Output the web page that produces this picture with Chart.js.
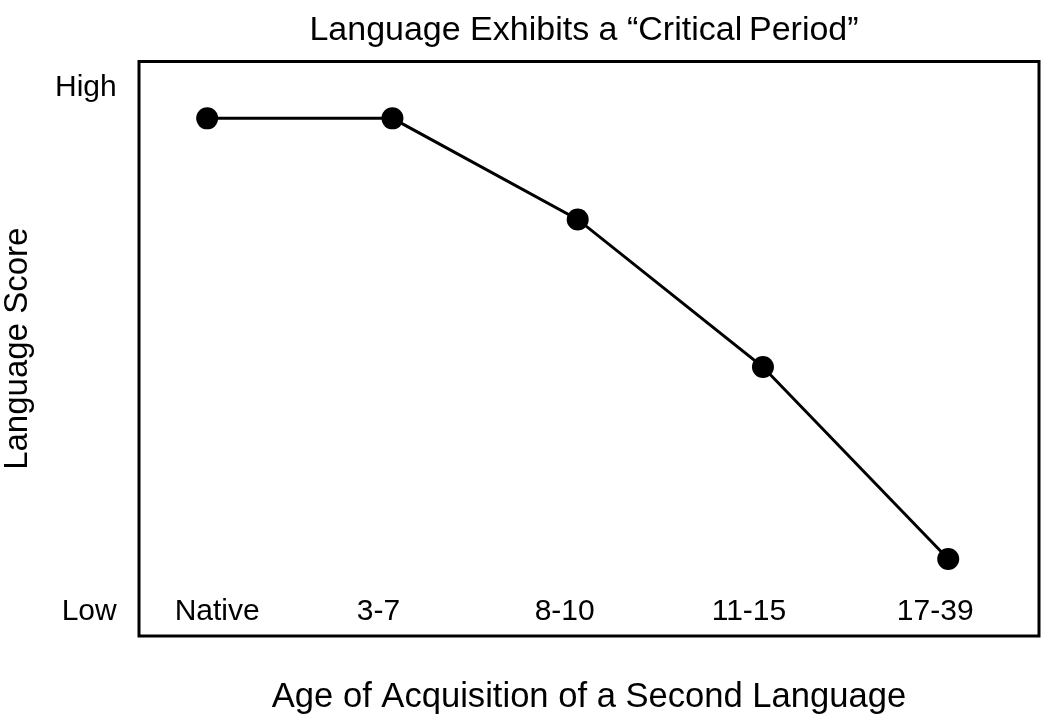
<!DOCTYPE html>
<html>
<head>
<meta charset="utf-8">
<script src="https://cdn.jsdelivr.net/npm/chart.js@4.4.1/dist/chart.umd.min.js"></script>
<style>
  html, body { margin: 0; padding: 0; background: #ffffff; overflow: hidden; }
  #wrap { width: 1050px; height: 720px; position: relative; }
</style>
</head>
<body>
<div id="wrap"><canvas id="c" width="1050" height="720"></canvas></div>
<script>
// ---- data ----
const categories = ["Native", "3-7", "8-10", "11-15", "17-39"];
const languageScore = [0.942, 0.942, 0.749, 0.467, 0.1005];
const yTickValues = [0, 1];
const yTickLabels = ["Low", "High"];
const chartTitle = "Language Exhibits a \u201CCritical\u2009Period\u201D";
const xTitle = "Age of Acquisition of a Second Language";
const yTitle = "Language Score";

// ---- style ----
const FONT = "'Liberation Sans', Arial, Helvetica, sans-serif";
const xLabelNudge = [10, -14, -13, -14, -13];

const boxPlugin = {
  id: 'boxPlugin',
  beforeDatasetsDraw(chart) {
    const a = chart.chartArea, ctx = chart.ctx;
    ctx.save();
    ctx.strokeStyle = '#000';
    ctx.lineWidth = 3;
    ctx.strokeRect(a.left, a.top, a.right - a.left, a.bottom - a.top);
    ctx.restore();
  },
  afterDraw(chart) {
    const a = chart.chartArea, ctx = chart.ctx, xs = chart.scales.x, ys = chart.scales.y;
    ctx.save();
    ctx.fillStyle = '#000';
    // chart title, centred over the plot box
    ctx.font = "34px " + FONT;
    ctx.textAlign = 'center';
    ctx.textBaseline = 'alphabetic';
    ctx.fillText(chartTitle, (a.left + a.right) / 2 - 5, 40);
    // category labels inside the box, on the "Low" line
    ctx.font = "30px " + FONT;
    ctx.textBaseline = 'middle';
    const yLow = ys.getPixelForValue(yTickValues[0]);
    categories.forEach((c, i) => {
      ctx.fillText(c, xs.getPixelForValue(i) + xLabelNudge[i], yLow);
    });
    ctx.restore();
  }
};

new Chart(document.getElementById('c'), {
  type: 'line',
  data: {
    datasets: [{
      data: categories.map((c, i) => ({ x: i, y: languageScore[i] })),
      borderColor: '#000',
      backgroundColor: '#000',
      borderWidth: 3,
      pointRadius: 11,
      pointBorderWidth: 0,
      pointBackgroundColor: '#000',
      tension: 0,
      fill: false
    }]
  },
  options: {
    responsive: false,
    animation: false,
    events: [],
    layout: { padding: { left: 0, right: 3.5, top: 61.5, bottom: 0 } },
    plugins: {
      legend: { display: false },
      tooltip: { enabled: false },
      title: { display: false }
    },
    scales: {
      x: {
        type: 'linear',
        min: -0.368,
        max: 4.49,
        grid: { display: false, drawTicks: false },
        border: { display: false },
        afterFit: (s) => { s.height = 720 - 636; },
        ticks: { display: false },
        title: {
          display: true,
          text: xTitle,
          color: '#000',
          font: { family: FONT, size: 34.6, weight: 'normal', lineHeight: 1.2 },
          padding: { top: 0, bottom: 1.5 }
        }
      },
      y: {
        type: 'linear',
        min: -0.0466,
        max: 1.0506,
        grid: { display: false, drawTicks: false },
        border: { display: false },
        afterBuildTicks: (s) => { s.ticks = yTickValues.map(v => ({ value: v })); },
        afterFit: (s) => { s.width = 139; },
        ticks: {
          padding: 22.3,
          color: '#000',
          font: { family: FONT, size: 30 },
          callback: (v) => yTickLabels[yTickValues.indexOf(v)]
        },
        title: {
          display: true,
          text: yTitle,
          color: '#000',
          font: { family: FONT, size: 33, weight: 'normal', lineHeight: 1.0 },
          padding: { top: 1.5, bottom: 0 }
        }
      }
    }
  },
  plugins: [boxPlugin]
});
</script>
</body>
</html>
